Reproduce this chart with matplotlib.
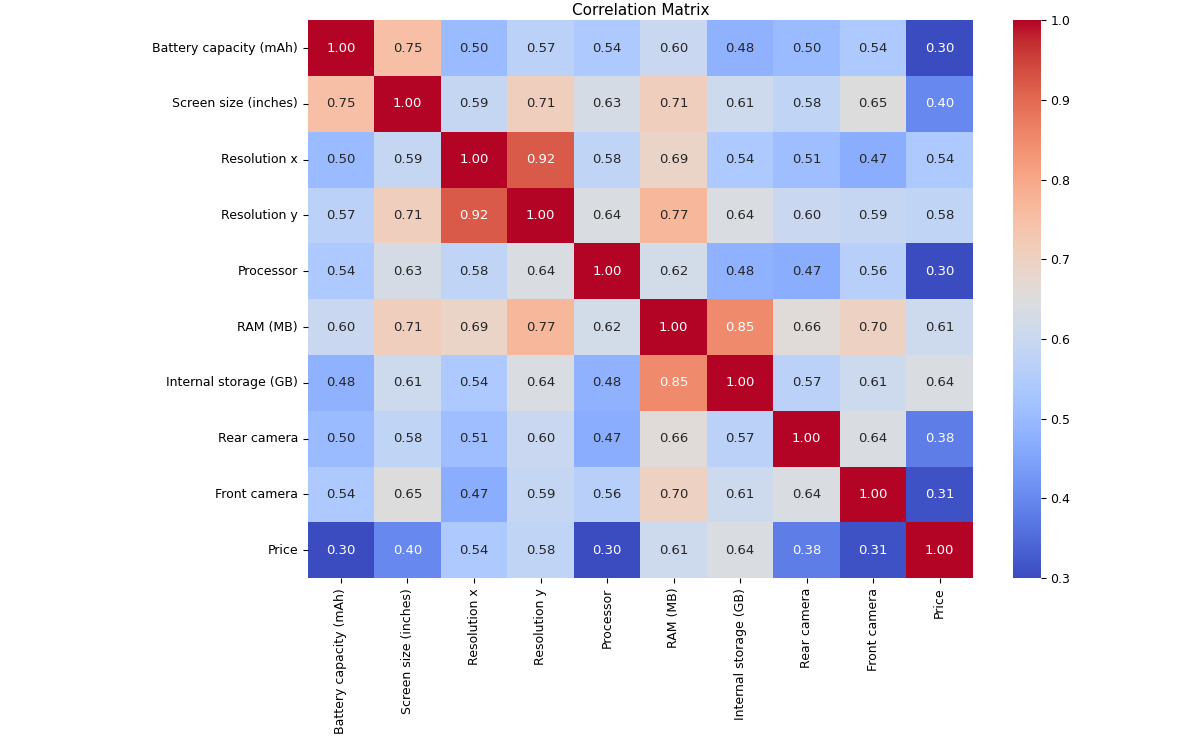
import matplotlib
matplotlib.use("Agg")
import matplotlib.pyplot as plt
import seaborn as sns
import numpy as np

labels = ["Battery capacity (mAh)", "Screen size (inches)", "Resolution x", "Resolution y",
          "Processor", "RAM (MB)", "Internal storage (GB)", "Rear camera", "Front camera", "Price"]
row0 = [1.00, 0.75, 0.50, 0.57, 0.54, 0.60, 0.48, 0.50, 0.54, 0.30]
row1 = [0.75, 1.00, 0.59, 0.71, 0.63, 0.71, 0.61, 0.58, 0.65, 0.40]
row2 = [0.50, 0.59, 1.00, 0.92, 0.58, 0.69, 0.54, 0.51, 0.47, 0.54]
row3 = [0.57, 0.71, 0.92, 1.00, 0.64, 0.77, 0.64, 0.60, 0.59, 0.58]
row4 = [0.54, 0.63, 0.58, 0.64, 1.00, 0.62, 0.48, 0.47, 0.56, 0.30]
row5 = [0.60, 0.71, 0.69, 0.77, 0.62, 1.00, 0.85, 0.66, 0.70, 0.61]
row6 = [0.48, 0.61, 0.54, 0.64, 0.48, 0.85, 1.00, 0.57, 0.61, 0.64]
row7 = [0.50, 0.58, 0.51, 0.60, 0.47, 0.66, 0.57, 1.00, 0.64, 0.38]
row8 = [0.54, 0.65, 0.47, 0.59, 0.56, 0.70, 0.61, 0.64, 1.00, 0.31]
row9 = [0.30, 0.40, 0.54, 0.58, 0.30, 0.61, 0.64, 0.38, 0.31, 1.00]
matrix = np.array([row0, row1, row2, row3, row4, row5, row6, row7, row8, row9])

fig = plt.figure(figsize=(11.88, 7.46), dpi=100)
ax = fig.add_axes([0.259, 0.225, 0.560, 0.748])
cax = fig.add_axes([0.853, 0.225, 0.023, 0.748])
sns.heatmap(matrix, annot=True, fmt=".2f", cmap="coolwarm", ax=ax, cbar_ax=cax,
            xticklabels=labels, yticklabels=labels, annot_kws={"fontsize": 9.5})
ax.set_title("Correlation Matrix", fontsize=11, pad=4)
ax.tick_params(labelsize=9)
cax.tick_params(labelsize=9)
plt.setp(ax.get_xticklabels(), rotation=90)
plt.setp(ax.get_yticklabels(), rotation=0)
fig.savefig("out.png", dpi=100)
